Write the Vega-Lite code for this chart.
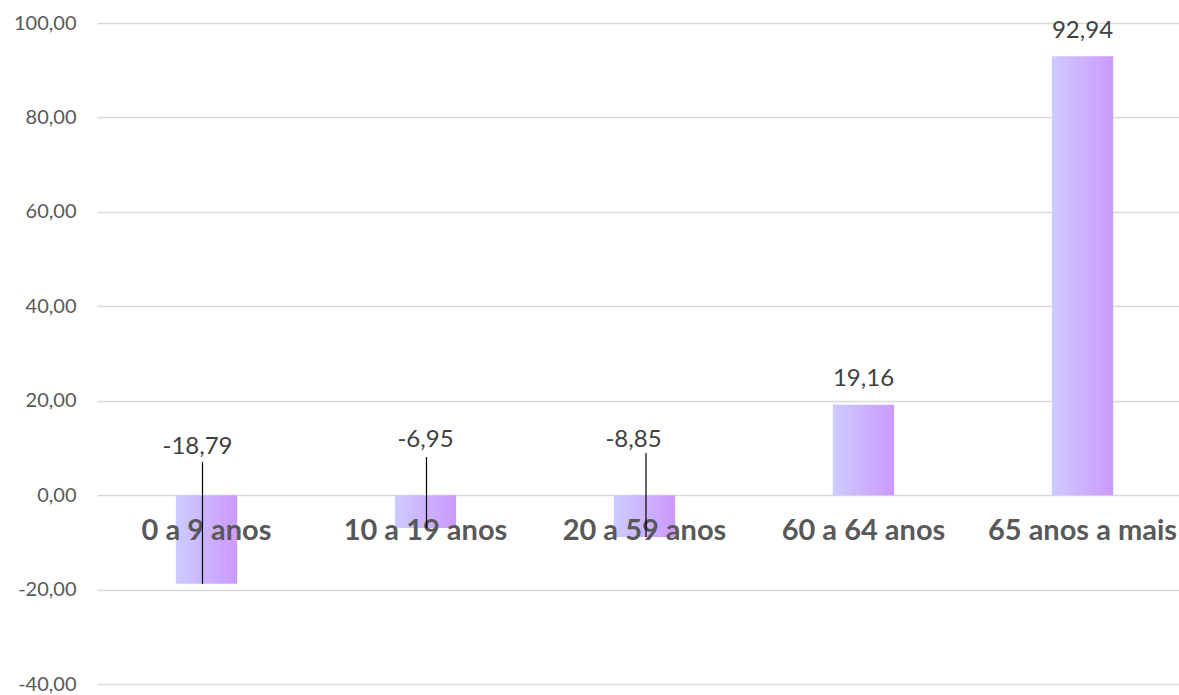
{
  "$schema": "https://vega.github.io/schema/vega-lite/v6.json",
  "width": 1082,
  "height": 661,
  "autosize": {"type": "none"},
  "padding": {"left": 97, "top": 23, "right": 0, "bottom": 11},
  "background": "white",
  "config": {
    "view": {"stroke": null},
    "locale": {"number": {"decimal": ",", "thousands": ".", "grouping": [3], "currency": ["R$", ""], "minus": "-"}},
    "font": "Lato"
  },
  "data": {
    "values": [
      {"cat": "0 a 9 anos", "v": -18.79},
      {"cat": "10 a 19 anos", "v": -6.95},
      {"cat": "20 a 59 anos", "v": -8.85},
      {"cat": "60 a 64 anos", "v": 19.16},
      {"cat": "65 anos a mais", "v": 92.94}
    ]
  },
  "encoding": {
    "x": {
      "field": "cat", "type": "nominal", "sort": null,
      "scale": {"range": [0, 1095], "paddingInner": 0.72, "paddingOuter": 0.36},
      "axis": null
    }
  },
  "layer": [
    {
      "mark": {
        "type": "bar",
        "color": {"gradient": "linear", "x1": 0, "x2": 1, "y1": 0, "y2": 0,
          "stops": [{"offset": 0, "color": "#CCCCFF"}, {"offset": 1, "color": "#CC99FF"}]}
      },
      "encoding": {
        "y": {
          "field": "v", "type": "quantitative",
          "scale": {"domain": [-40, 100], "nice": false},
          "axis": {
            "title": null, "values": [-40, -20, 0, 20, 40, 60, 80, 100], "format": ".2f",
            "domain": false, "ticks": false, "labelPadding": 21,
            "labelFontSize": 20, "labelColor": "#595959", "labelFont": "Lato",
            "gridColor": "#d9d9d9", "gridWidth": 1.5
          }
        }
      }
    },
    {
      "mark": {"type": "text", "fontSize": 29, "fontWeight": "bold", "color": "#595959", "baseline": "middle", "dy": 36},
      "encoding": {"y": {"datum": 0, "type": "quantitative"}, "text": {"field": "cat", "type": "nominal"}}
    },
    {
      "transform": [{"filter": "datum.v > 0"}],
      "mark": {"type": "text", "fontSize": 24, "color": "#404040", "baseline": "alphabetic", "dy": -18.5},
      "encoding": {"y": {"field": "v", "type": "quantitative"}, "text": {"field": "v", "type": "quantitative", "format": ".2f"}}
    },
    {
      "transform": [{"filter": "datum.cat == '0 a 9 anos'"}],
      "layer": [
        {"mark": {"type": "text", "fontSize": 24, "color": "#404040", "baseline": "alphabetic", "dy": -41.5, "dx": -9},
         "encoding": {"y": {"datum": 0, "type": "quantitative"}, "text": {"field": "v", "type": "quantitative", "format": ".2f"}}},
        {"mark": {"type": "rule", "color": "black", "strokeWidth": 1.2, "xOffset": -4},
         "encoding": {"y": {"field": "v", "type": "quantitative"}, "y2": {"datum": 7.0}}}
      ]
    },
    {
      "transform": [{"filter": "datum.cat == '10 a 19 anos'"}],
      "layer": [
        {"mark": {"type": "text", "fontSize": 24, "color": "#404040", "baseline": "alphabetic", "dy": -48.5, "dx": 0},
         "encoding": {"y": {"datum": 0, "type": "quantitative"}, "text": {"field": "v", "type": "quantitative", "format": ".2f"}}},
        {"mark": {"type": "rule", "color": "black", "strokeWidth": 1.2, "xOffset": 1},
         "encoding": {"y": {"field": "v", "type": "quantitative"}, "y2": {"datum": 8.05}}}
      ]
    },
    {
      "transform": [{"filter": "datum.cat == '20 a 59 anos'"}],
      "layer": [
        {"mark": {"type": "text", "fontSize": 24, "color": "#404040", "baseline": "alphabetic", "dy": -48.5, "dx": -11},
         "encoding": {"y": {"datum": 0, "type": "quantitative"}, "text": {"field": "v", "type": "quantitative", "format": ".2f"}}},
        {"mark": {"type": "rule", "color": "black", "strokeWidth": 1.2, "xOffset": 1.5},
         "encoding": {"y": {"field": "v", "type": "quantitative"}, "y2": {"datum": 8.9}}}
      ]
    }
  ]
}
